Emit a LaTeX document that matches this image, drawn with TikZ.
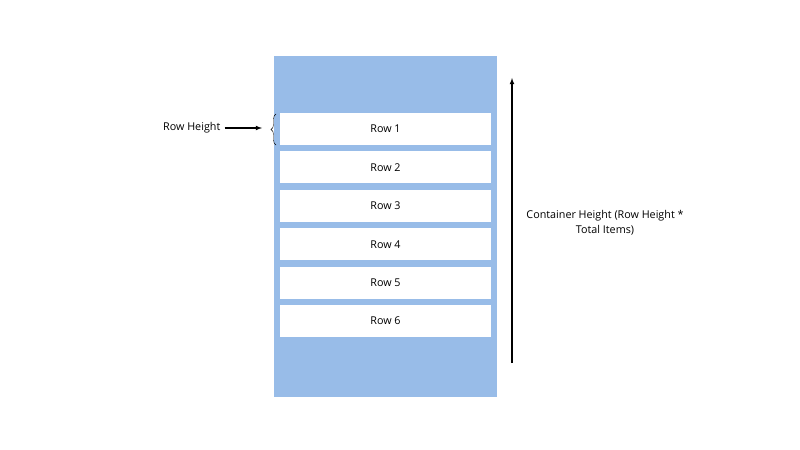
\documentclass[tikz,border=0pt]{standalone}
\usepackage{fontspec}
\setmainfont{Open Sans}
\usetikzlibrary{positioning,decorations.pathreplacing}
\definecolor{listblue}{HTML}{98BCE8}

\begin{document}
\begin{tikzpicture}[x=1bp,y=-1bp,font=\fontsize{10.8}{15.5}\selectfont]
\tikzstyle{rowbox}=[fill=white,minimum width=211bp,minimum height=32bp,inner sep=0pt]
\useasboundingbox (0,0) rectangle (800,450);
\node [fill=listblue,minimum width=223bp,minimum height=341bp,inner sep=0pt] (container) at (385.5,226.5) {};
\foreach \i/\y in {1/129,2/167.4,3/205.8,4/244.2,5/282.6,6/321}
  \node [rowbox] (row\i) at (385.5,\y) {Row \i};
\node [anchor=east,inner sep=0pt] (rowh) at (220.5,128) {Row Height};
\coordinate (bracetop) at (276,114);
\coordinate (bracebot) at (276,145);
\draw [decorate,decoration={brace,amplitude=5bp,mirror},thin] (bracetop) -- (bracebot);
\draw [-latex,line width=1.1pt,shorten <=4bp] (rowh.east) -- (262,128);
\coordinate (htbot) at (512,363);
\coordinate (httop) at (512,78);
\draw [-latex,line width=1.1pt] (htbot) -- (httop);
\node [align=center] (htlabel) at (605,223) {Container Height (Row Height *\\Total Items)};
\end{tikzpicture}
\end{document}
